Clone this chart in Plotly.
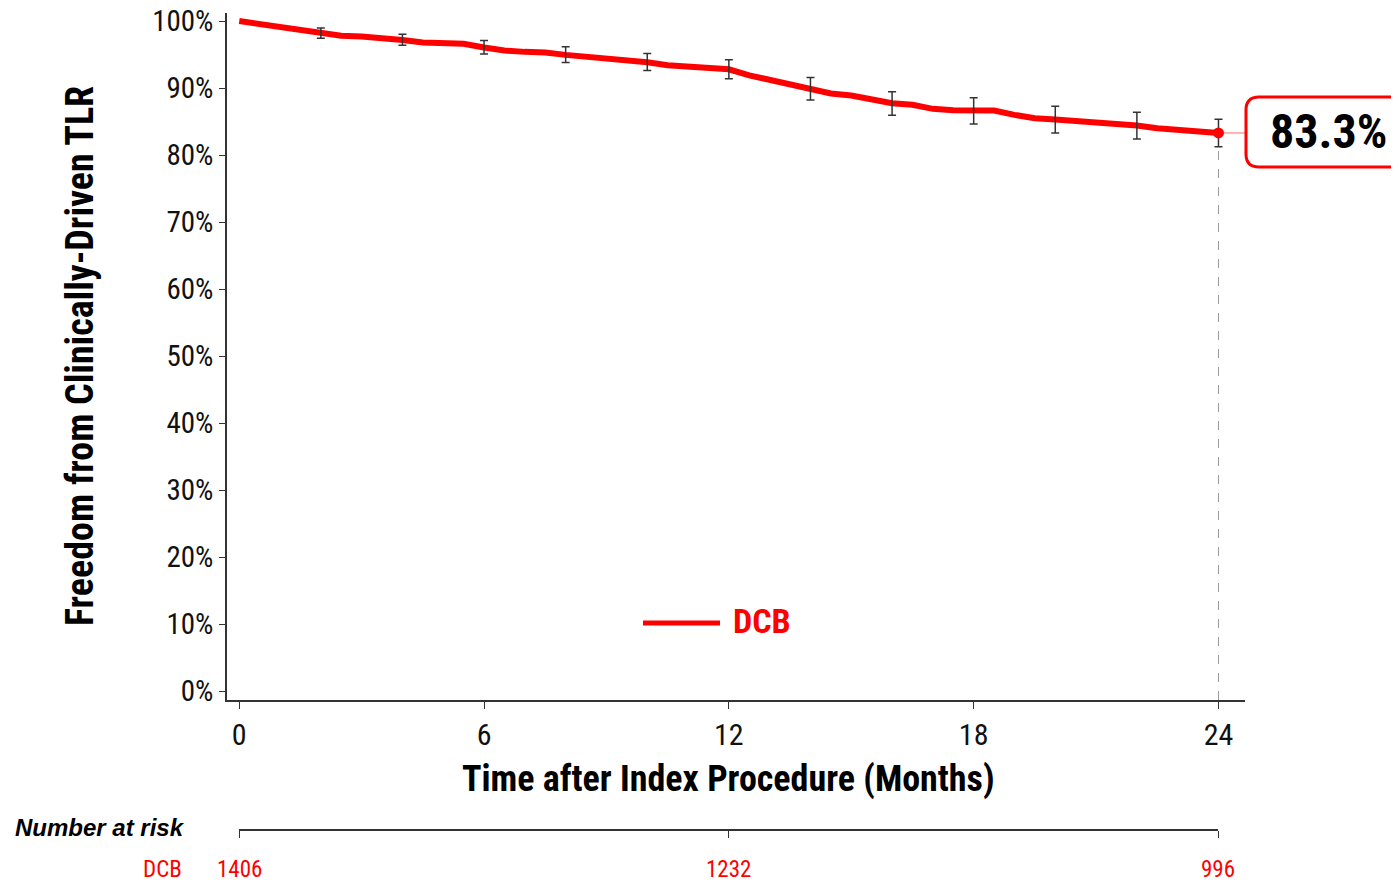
import plotly.graph_objects as go

# ---- data ----
months = [0, 0.5, 1, 1.5, 2, 2.5, 3, 3.5, 4, 4.5, 5, 5.5, 6, 6.5, 7, 7.5, 8, 8.5, 9, 9.5,
          10, 10.5, 11, 11.5, 12, 12.5, 13, 13.5, 14, 14.5, 15, 15.5, 16, 16.5, 17, 17.5,
          18, 18.5, 19, 19.5, 20, 20.5, 21, 21.5, 22, 22.5, 23, 23.5, 24]
survival = [100, 99.55, 99.15, 98.55, 98.2, 97.8, 97.7, 97.5, 97.16, 96.8, 96.7, 96.6,
            96.05, 95.6, 95.4, 95.3, 94.95, 94.7, 94.4, 94.2, 93.85, 93.4, 93.2, 93.1,
            92.8, 91.9, 91.2, 90.4, 89.9, 89.2, 88.9, 88.4, 87.75, 87.5, 86.9, 86.7,
            86.65, 86.65, 86.0, 85.5, 85.3, 85.1, 84.9, 84.6, 84.4, 84.0, 83.8, 83.7, 83.3]

ci_months = [2, 4, 6, 8, 10, 12, 14, 16, 18, 20, 22, 24]
ci_center = [98.2, 97.2, 96.1, 95.0, 93.9, 92.8, 89.9, 87.7, 86.6, 85.3, 84.4, 83.3]
ci_half = [0.75, 0.82, 1.0, 1.17, 1.27, 1.42, 1.67, 1.74, 1.96, 2.0, 2.0, 2.04]

final_month = 24
final_value = 83.3

x_ticks = [0, 6, 12, 18, 24]
y_ticks = [0, 10, 20, 30, 40, 50, 60, 70, 80, 90, 100]
y_tick_labels = [f"{v}%" for v in y_ticks]

risk_months = [0, 12, 24]
risk_counts = ["1406", "1232", "996"]

group = "DCB"

# ---- styling ----
RED = "#ff0000"
AX = "#333333"
FONT = "Liberation Sans Narrow, Roboto Condensed, DejaVu Sans Condensed, sans-serif"

# page has an 8px body margin: figure is shifted so the plot sits where the reference does
W, H = 1391, 874
ML, MR, MT, MB = 219, 154, 5, 10
PW = W - ML - MR          # 1018
PH = H - MT - MB          # 859
REF_LEFT, REF_BOTTOM = 227, 872   # paper edges in reference-image pixels


def px_x(p):
    return (p - REF_LEFT) / PW


def px_y(p):
    return (REF_BOTTOM - p) / PH


fig = go.Figure()

fig.add_trace(go.Scatter(
    x=months, y=survival, mode="lines",
    line=dict(color=RED, width=6), showlegend=False, hoverinfo="skip",
    xaxis="x", yaxis="y"))

fig.add_trace(go.Scatter(
    x=ci_months, y=ci_center, mode="markers",
    marker=dict(size=1, color="rgba(0,0,0,0)"),
    error_y=dict(type="data", array=ci_half, visible=True, color=AX, thickness=1.5, width=4),
    showlegend=False, hoverinfo="skip", xaxis="x", yaxis="y"))

fig.add_trace(go.Scatter(
    x=[final_month], y=[final_value], mode="markers",
    marker=dict(size=11, color=RED), showlegend=False, hoverinfo="skip",
    xaxis="x", yaxis="y"))

# invisible trace for the at-risk axis
fig.add_trace(go.Scatter(x=risk_months, y=[0, 0, 0], mode="markers",
                         marker=dict(size=1, color="rgba(0,0,0,0)"),
                         showlegend=False, hoverinfo="skip", xaxis="x2", yaxis="y2"))

main_bottom = px_y(700)

fig.update_layout(
    width=W, height=H,
    margin=dict(l=ML, r=MR, t=MT, b=MB, autoexpand=False),
    paper_bgcolor="white", plot_bgcolor="white",
    xaxis=dict(range=[-0.3, 24.65], domain=[0, 1], anchor="y", automargin=False,
               tickvals=x_ticks, ticks="outside", ticklen=7, tickwidth=1.2, tickcolor=AX,
               showline=True, linecolor=AX, linewidth=1.5, showgrid=False, zeroline=False,
               ticklabeloverflow="allow",
               tickfont=dict(family=FONT, size=30, color="#111")),
    yaxis=dict(range=[-1.3, 101.2], domain=[main_bottom, 1], anchor="x", automargin=False,
               tickvals=y_ticks, ticktext=y_tick_labels, ticks="outside", ticklen=6,
               tickwidth=1.2, tickcolor=AX, showline=True, linecolor=AX, linewidth=1.5,
               showgrid=False, zeroline=False, ticklabeloverflow="allow",
               tickfont=dict(family=FONT, size=29, color="#111")),
    xaxis2=dict(range=[0, 24], domain=[px_x(239), px_x(1218)], anchor="y2", automargin=False,
                tickvals=risk_months, ticks="outside", ticklen=7, tickwidth=1.2, tickcolor=AX,
                showticklabels=False, showline=True, linecolor=AX, linewidth=1.5,
                showgrid=False, zeroline=False),
    yaxis2=dict(domain=[px_y(829), px_y(829) + 0.01], anchor="x2", visible=False,
                automargin=False, range=[0, 1]),
)

shapes = []
shapes.append(dict(type="line", xref="x", yref="y", x0=final_month, x1=final_month,
                   y0=-1.3, y1=final_value, line=dict(color="#999999", width=1, dash="dash"),
                   layer="below"))
shapes.append(dict(type="line", xref="x", yref="y", x0=final_month, x1=24.65,
                   y0=final_value, y1=final_value, line=dict(color="#ff8080", width=1.2),
                   layer="below"))
bx0, bx1 = px_x(1246), px_x(1410)
by0, by1 = px_y(167), px_y(97)
rx, ry = 13 / PW, 13 / PH
path = (f"M {bx0 + rx},{by1} L {bx1 - rx},{by1} Q {bx1},{by1} {bx1},{by1 - ry} "
        f"L {bx1},{by0 + ry} Q {bx1},{by0} {bx1 - rx},{by0} L {bx0 + rx},{by0} "
        f"Q {bx0},{by0} {bx0},{by0 + ry} L {bx0},{by1 - ry} Q {bx0},{by1} {bx0 + rx},{by1} Z")
shapes.append(dict(type="path", xref="paper", yref="paper", path=path,
                   line=dict(color=RED, width=3), fillcolor="white"))
shapes.append(dict(type="line", xref="paper", yref="paper", x0=px_x(643), x1=px_x(720),
                   y0=px_y(623), y1=px_y(623), line=dict(color=RED, width=5)))
fig.update_layout(shapes=shapes)

ann = []
ann.append(dict(text=f"<b>{final_value}%</b>", xref="paper", yref="paper",
                x=px_x(1328), y=px_y(131), xanchor="center", yanchor="middle",
                showarrow=False, font=dict(family=FONT, size=48, color="black")))
ann.append(dict(text=f"<b>{group}</b>", xref="paper", yref="paper",
                x=px_x(731), y=px_y(621), xanchor="left", yanchor="middle",
                showarrow=False, font=dict(family=FONT, size=34, color=RED)))
ann.append(dict(text="<b>Time after Index Procedure (Months)</b>", xref="x", yref="paper",
                x=12, y=px_y(779), xanchor="center", yanchor="middle", showarrow=False,
                font=dict(family=FONT, size=36, color="black")))
ann.append(dict(text="<b>Freedom from Clinically-Driven TLR</b>", xref="paper", yref="paper",
                x=px_x(80), y=px_y(356), xanchor="center", yanchor="middle", textangle=-90,
                showarrow=False, font=dict(family=FONT, size=38, color="black")))
ann.append(dict(text="<b><i>Number at risk</i></b>", xref="paper", yref="paper",
                x=px_x(13), y=px_y(827), xanchor="left", yanchor="middle", showarrow=False,
                font=dict(family="Liberation Sans, Arial, sans-serif", size=24, color="black")))
ann.append(dict(text=group, xref="paper", yref="paper", x=px_x(162), y=px_y(869),
                xanchor="center", yanchor="middle", showarrow=False,
                font=dict(family=FONT, size=23, color=RED)))
for m, c in zip(risk_months, risk_counts):
    ann.append(dict(text=c, xref="x2", yref="paper", x=m, y=px_y(869),
                    xanchor="center", yanchor="middle", showarrow=False,
                    font=dict(family=FONT, size=23, color=RED)))
fig.update_layout(annotations=ann)

fig.write_html("out.html")
